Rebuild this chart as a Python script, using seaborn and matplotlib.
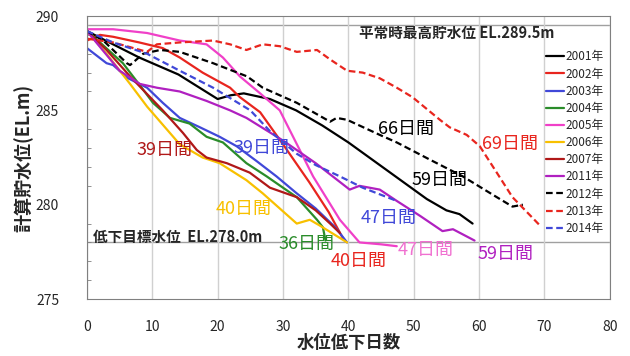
import matplotlib
matplotlib.use('Agg')
import matplotlib.pyplot as plt
import seaborn as sns
from matplotlib.ticker import MultipleLocator

# ---------------- data ----------------
years = ['2001年', '2002年', '2003年', '2004年', '2005年', '2006年',
         '2007年', '2011年', '2012年', '2013年', '2014年']

days_2001 = [0, 4, 8, 14, 20, 22, 24, 28, 32, 36, 40, 44, 48, 52, 55, 57, 59]
lvl_2001 = [289.2, 288.5, 287.8, 286.9, 285.6, 285.8, 285.9, 285.6, 285.0, 284.2,
            283.3, 282.3, 281.3, 280.3, 279.7, 279.5, 279.0]

days_2002 = [0, 2, 4, 8, 11.6, 14.2, 17.7, 21.9, 23.4, 26.5, 30, 34, 37, 39.2]
lvl_2002 = [288.7, 289.0, 288.9, 288.6, 288.3, 287.8, 287.0, 286.2, 285.7, 284.9,
            283.2, 281.2, 279.6, 278.2]

days_2003 = [0, 3, 4, 6.3, 9.2, 11.6, 14.2, 17.3, 20.3, 22.9, 26, 29, 32.1, 35, 38, 39.8]
lvl_2003 = [288.3, 287.5, 287.4, 286.7, 286.2, 285.4, 284.6, 284.1, 283.6, 283.1,
            282.3, 281.5, 280.6, 279.8, 278.8, 278.0]

days_2004 = [0, 2, 5.5, 8.6, 10.1, 12.7, 15.7, 18.3, 20.8, 24.4, 27.5, 30, 32.1, 35.2, 36.1, 36.5]
lvl_2004 = [289.2, 288.6, 287.5, 286.1, 285.4, 284.6, 284.3, 283.6, 283.3, 282.2,
            281.5, 280.9, 280.4, 279.2, 278.8, 278.1]

days_2005 = [0, 4, 9.2, 14.2, 18.3, 20.8, 23.4, 26.5, 29.5, 34.6, 38.7, 41.7, 45, 47.4]
lvl_2005 = [289.3, 289.3, 289.1, 288.7, 288.5, 287.8, 286.8, 285.9, 285.0, 281.5,
            279.2, 278.0, 277.9, 277.8]

days_2006 = [0, 3, 6.6, 9.2, 12.2, 14.2, 17.7, 20.3, 24.4, 26.9, 32.1, 34.1, 35.6, 39.8]
lvl_2006 = [289.2, 288.0, 286.4, 285.2, 284.0, 283.2, 282.5, 282.2, 281.3, 280.6,
            279.0, 279.2, 278.9, 278.0]

days_2007 = [0, 3, 6.6, 11.6, 14.7, 16.8, 18.3, 21.4, 24.9, 28, 32.1, 35, 37.2, 38.7]
lvl_2007 = [289.2, 288.2, 286.8, 285.0, 283.8, 282.9, 282.5, 282.2, 281.7, 280.9,
            280.4, 279.7, 279.0, 278.5]

days_2011 = [0, 5, 8.1, 10.7, 14.2, 18.3, 21.9, 24.4, 30, 35, 40.2, 41.7, 44.8, 47.4,
             51, 54.4, 56, 59.3]
lvl_2011 = [289.2, 287.1, 286.4, 286.2, 286.0, 285.5, 285.0, 284.6, 283.4, 282.2,
            280.8, 281.0, 280.8, 280.2, 279.4, 278.6, 278.7, 278.1]

days_2012 = [0, 2.5, 6.1, 6.6, 8.6, 11.2, 14.2, 19.3, 24.5, 26.9, 32.1, 37.2, 38.2,
             39.8, 44.8, 47.4, 52.4, 57.5, 62.7, 65.1, 66.7]
lvl_2012 = [289.2, 288.7, 287.5, 287.4, 288.0, 288.2, 288.1, 287.5, 286.8, 286.2,
            285.4, 284.4, 284.6, 284.5, 283.7, 283.3, 282.4, 281.5, 280.4, 279.9, 280.0]

days_2013 = [0, 4, 9.2, 10.7, 14.2, 19.3, 21.9, 24.4, 26.9, 29.5, 32.1, 35.2, 37.2,
             39.8, 42.2, 44.8, 47.4, 49.8, 54, 55.5, 58.1, 60.1, 62.7, 65.1, 69.3]
lvl_2013 = [288.8, 288.6, 288.1, 288.5, 288.6, 288.7, 288.5, 288.2, 288.5, 288.4,
            288.1, 288.2, 287.7, 287.1, 287.0, 286.7, 286.2, 285.7, 284.5, 284.1,
            283.7, 283.1, 281.7, 280.4, 278.9]

days_2014 = [0, 4, 9.2, 14.2, 19.3, 25, 28, 32.1, 35, 38.7, 42.2, 47.4]
lvl_2014 = [289.2, 288.6, 288.0, 287.1, 286.2, 285.0, 283.9, 282.7, 282.1, 281.5,
            280.9, 280.2]

all_days = [days_2001, days_2002, days_2003, days_2004, days_2005, days_2006,
            days_2007, days_2011, days_2012, days_2013, days_2014]
all_lvls = [lvl_2001, lvl_2002, lvl_2003, lvl_2004, lvl_2005, lvl_2006,
            lvl_2007, lvl_2011, lvl_2012, lvl_2013, lvl_2014]

colors = ['#000000', '#E8251E', '#4048D8', '#2A8C2A', '#F040C8', '#F8C000',
          '#B01818', '#B020C0', '#000000', '#E8251E', '#4048D8']
dashed = [False] * 8 + [True] * 3

# duration labels: text, x, y, colour
lab_text = ['39日間', '39日間', '66日間', '69日間', '59日間', '40日間',
            '47日間', '36日間', '40日間', '47日間', '59日間']
lab_x = [7.6, 22.4, 44.6, 60.4, 49.6, 19.7, 41.9, 29.3, 37.3, 47.5, 59.7]
lab_y = [282.9, 283.0, 284.0, 283.2, 281.3, 279.8, 279.3, 277.9, 277.0, 277.6, 277.4]
lab_col = ['#B01818', '#4048D8', '#000000', '#E8251E', '#000000', '#F8C000',
           '#4048D8', '#2A8C2A', '#E8251E', '#F070D0', '#B020C0']

# ---------------- plot ----------------
sns.set_style('white')
plt.rcParams['font.family'] = ['Noto Sans CJK JP', 'DejaVu Sans']

fig = plt.figure(figsize=(6.3, 3.56), dpi=100)
ax = fig.add_axes([0.138, 0.16, 0.83, 0.795])

for d, v, c, ds, yr in zip(all_days, all_lvls, colors, dashed, years):
    sns.lineplot(x=d, y=v, ax=ax, color=c, linewidth=1.6, label=yr,
                 linestyle=(0, (3, 1.6)) if ds else '-', sort=False)

ax.axhline(289.5, color='#a0a0a0', linewidth=1.0, zorder=0)
ax.axhline(278.0, color='#a0a0a0', linewidth=1.0, zorder=0)

ax.set_xlim(0, 80)
ax.set_ylim(275, 290)
ax.xaxis.set_major_locator(MultipleLocator(10))
ax.yaxis.set_major_locator(MultipleLocator(5))
ax.yaxis.set_minor_locator(MultipleLocator(1))
ax.grid(axis='x', color='#d0d0d0', linewidth=1.0)
ax.tick_params(axis='y', which='minor', direction='in', length=3, color='#808080', left=True)
ax.tick_params(axis='both', which='major', labelsize=10, length=0)
ax.tick_params(axis='x', which='major', pad=15)
ax.tick_params(axis='y', which='major', pad=20)
for s in ax.spines.values():
    s.set_color('#808080')

ax.set_xlabel('水位低下日数', fontsize=12.5, fontweight='bold', labelpad=0)
ax.set_ylabel('計算貯水位(EL.m)', fontsize=13, fontweight='bold', labelpad=2)

ax.text(41.6, 289.1, '平常時最高貯水位 EL.289.5m', fontsize=10.5, fontweight='bold',
        va='center', ha='left')
ax.text(1.0, 278.3, '低下目標水位  EL.278.0m', fontsize=10.5, fontweight='bold',
        va='center', ha='left')

for t, x, y, c in zip(lab_text, lab_x, lab_y, lab_col):
    ax.text(x, y, t, color=c, fontsize=13, va='center', ha='left')

ax.legend(loc='upper left', bbox_to_anchor=(0.868, 0.895), frameon=False,
          fontsize=8.5, handlelength=1.6, handletextpad=0.1, labelspacing=0.35,
          borderaxespad=0)

fig.savefig('out.png', dpi=100)
